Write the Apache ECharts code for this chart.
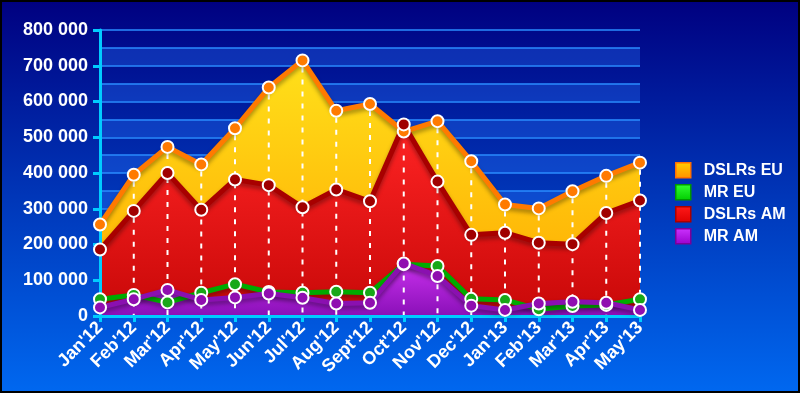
<!DOCTYPE html>
<html><head><meta charset="utf-8">
<script src="https://cdn.jsdelivr.net/npm/echarts@6/dist/echarts.min.js"></script>
<style>html,body{margin:0;padding:0;background:#000;}#c{width:800px;height:393px;}</style>
</head><body><div id="c"></div>
<script>
const categories = ["Jan'12","Feb'12","Mar'12","Apr'12","May'12","Jun'12","Jul'12","Aug'12","Sept'12","Oct'12","Nov'12","Dec'12","Jan'13","Feb'13","Mar'13","Apr'13","May'13"];
const dslrsEU = [256000,395000,473000,424000,525000,639000,715000,574000,593000,516000,545000,433000,312000,301000,349000,392000,429000];
const dslrsAM = [186000,294000,400000,297000,382000,366000,304000,354000,321000,536000,376000,227000,233000,205000,201000,288000,323000];
const mrEU = [47000,59000,38000,65000,89000,67000,65000,68000,65000,145000,140000,48000,45000,19000,28000,31000,47000];
const mrAM = [24000,47000,73000,45000,52000,63000,51000,35000,37000,147000,112000,29000,17000,35000,40000,37000,17000];
const seriesNames = ["DSLRs EU","MR EU","DSLRs AM","MR AM"];
const yMin = 0, yMax = 800000, yLabelStep = 100000, yBandStep = 50000;

function grad(c1, c2){return {type:'linear',x:0,y:0,x2:0,y2:1,colorStops:[{offset:0,color:c1},{offset:1,color:c2}]};}
const styles = {
  "DSLRs EU": {line:'#ff7a00', marker:'#ff7a00', area:grad('#ffe01a','#ffa800'), legend:grad('#ffd000','#ff9000'), legendBorder:'#ff7000'},
  "DSLRs AM": {line:'#a80000', marker:'#a00000', area:grad('#ff2424','#c80808'), legend:grad('#ff1a1a','#dd0000'), legendBorder:'#aa0000'},
  "MR EU": {line:'#00aa00', marker:'#18a818', area:null, legend:grad('#33ff33','#00cc00'), legendBorder:'#009900'},
  "MR AM": {line:'#8a10b0', marker:'#900eb0', area:grad('#c830ec','#8a10b8'), legend:grad('#cc33ff','#9900cc'), legendBorder:'#7a0099'}
};
const dataByName = {"DSLRs EU":dslrsEU,"DSLRs AM":dslrsAM,"MR EU":mrEU,"MR AM":mrAM};
const drawOrder = ["DSLRs EU","DSLRs AM","MR EU","MR AM"];
const tops = categories.map((c,i)=>[i, Math.max(dslrsEU[i],dslrsAM[i],mrEU[i],mrAM[i])]);

const series = [];
drawOrder.forEach(n=>{
  const s = styles[n];
  if (s.area) series.push({name:n,type:'line',data:dataByName[n],z:2,showSymbol:false,symbol:'none',
    lineStyle:{width:0},areaStyle:{color:s.area,opacity:1},silent:true});
});
series.push({type:'custom',z:3,silent:true,data:tops,renderItem:function(params,api){
  const p1 = api.coord([api.value(0), api.value(1)]);
  const p0 = api.coord([api.value(0), 0]);
  return {type:'line',shape:{x1:p1[0],y1:p1[1]+7,x2:p0[0],y2:p0[1]},style:{stroke:'#ffffff',lineWidth:2,lineDash:[5,7]}};
}});
drawOrder.forEach(n=>{
  const s = styles[n];
  series.push({name:n,type:'line',data:dataByName[n],z:5,symbol:'circle',symbolSize:12,showSymbol:true,
    lineStyle:{color:s.line,width:5,shadowColor:'rgba(0,0,0,0.35)',shadowBlur:4,shadowOffsetY:3},
    itemStyle:{color:s.marker,borderColor:'#ffffff',borderWidth:2}});
});

const chart = echarts.init(document.getElementById('c'));
chart.setOption({
  animation:false,
  backgroundColor:{type:'linear',x:0,y:0,x2:0,y2:1,colorStops:[{offset:0,color:'#000080'},{offset:0.5,color:'#0036b8'},{offset:1,color:'#0068f0'}]},
  grid:{left:100,right:160,top:30,bottom:77},
  legend:{orient:'vertical',left:675,top:162,padding:0,itemWidth:15,itemHeight:15,itemGap:5.5,icon:'rect',
    textStyle:{color:'#ffffff',fontSize:16,fontWeight:'bold',fontFamily:'Liberation Sans, Arial, sans-serif',lineHeight:16,padding:[0,0,0,8]},
    data:seriesNames.map(n=>({name:n,itemStyle:{color:styles[n].legend,borderColor:styles[n].legendBorder,borderWidth:1.5}}))},
  xAxis:{type:'category',data:categories,boundaryGap:false,z:4,
    axisLine:{lineStyle:{color:'#00ccff',width:3}},
    axisTick:{show:true,length:6,lineStyle:{color:'#00ccff',width:3}},
    axisLabel:{color:'#ffffff',fontSize:18,fontWeight:'bold',fontFamily:'Liberation Sans, Arial, sans-serif',rotate:45,margin:9,interval:0},
    splitLine:{show:false}},
  yAxis:[
    {type:'value',min:yMin,max:yMax,interval:yBandStep,z:0,
      axisLine:{show:false},axisTick:{show:false},axisLabel:{show:false},
      splitLine:{show:true,lineStyle:{color:'#2a8cff',width:1.5}},
      splitArea:{show:true,areaStyle:{color:['rgba(40,120,255,0.32)','rgba(0,0,0,0)']}}},
    {type:'value',min:yMin,max:yMax,interval:yLabelStep,position:'left',offset:0,z:4,
      axisLine:{show:true,lineStyle:{color:'#00ccff',width:3}},
      axisTick:{show:true,length:7,lineStyle:{color:'#00ccff',width:3}},
      axisLabel:{color:'#ffffff',fontSize:18,fontWeight:'bold',fontFamily:'Liberation Sans, Arial, sans-serif',margin:12,
        formatter:function(v){return v===0?'0':String(v).replace(/\B(?=(\d{3})+(?!\d))/g,' ');}},
      splitLine:{show:false},splitArea:{show:false}}
  ],
  graphic:[{type:'rect',z:100,silent:true,shape:{x:1,y:1,width:798,height:391},style:{fill:'none',stroke:'#000000',lineWidth:2}}],
  series:series
});
</script></body></html>
